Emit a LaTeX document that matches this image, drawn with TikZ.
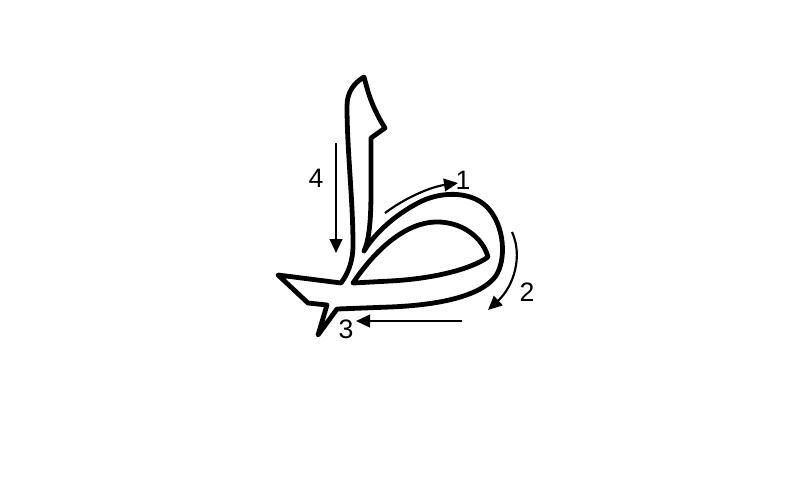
\documentclass[tikz,border=0pt]{standalone}
\usepackage{fontspec}
\setsansfont{Liberation Sans}
\usetikzlibrary{arrows.meta}

\begin{document}
\begin{tikzpicture}[
      x=0.75pt, y=-0.75pt,
      font=\fontsize{20}{20}\selectfont\sffamily,
      letter/.style={draw=black, line width=3.6pt, line join=round, fill=white},
      hole/.style={draw=black, line width=3.6pt, line join=round},
      arr/.style={-{Triangle[length=10.5pt,width=9.5pt]}, line width=1.6pt, draw=black},
      num/.style={inner sep=0pt}
    ]
    \useasboundingbox (0,0) rectangle (800,480);

    % letter outline: alif, bottom stroke and loop
    \draw[letter] (337,309) -- (390,307)
      .. controls (440,305) and (480,296) .. (495,277)
      .. controls (507,261) and (505,224) .. (486,206)
      .. controls (470,191) and (440,191) .. (418,203)
      .. controls (395,215) and (375,233) .. (364,251)
      .. controls (370,238) and (371,215) .. (371,190)
      -- (371,138) -- (385,128)
      .. controls (378,117) and (371,103) .. (367,88)
      -- (364,77)
      .. controls (354,83) and (347,92) .. (347,106)
      .. controls (347,150) and (353,200) .. (353,245)
      .. controls (353,263) and (347,275) .. (341,283)
      -- (278,275) -- (308,303) -- (327,305) -- (318,335) -- cycle;
    % inner counter of the loop
    \draw[hole] (353,283)
      .. controls (375,250) and (405,223) .. (435,222)
      .. controls (462,221) and (483,238) .. (488,257)
      .. controls (470,270) and (430,279) .. (390,281) -- cycle;

    % stroke order
    \draw[arr] (385,213) .. controls (405,198) and (430,187) .. (458,183);
    \draw[arr] (512,232) .. controls (523,256) and (514,286) .. (488,310);
    \draw[arr] (462,321) -- (356,321);
    \draw[arr] (336,143) -- (336,253);

    \node[num] (lab1) at (463,180) {1};
    \node[num] (lab2) at (527,292) {2};
    \node[num] (lab3) at (346,329) {3};
    \node[num] (lab4) at (316,178) {4};
\end{tikzpicture}
\end{document}
